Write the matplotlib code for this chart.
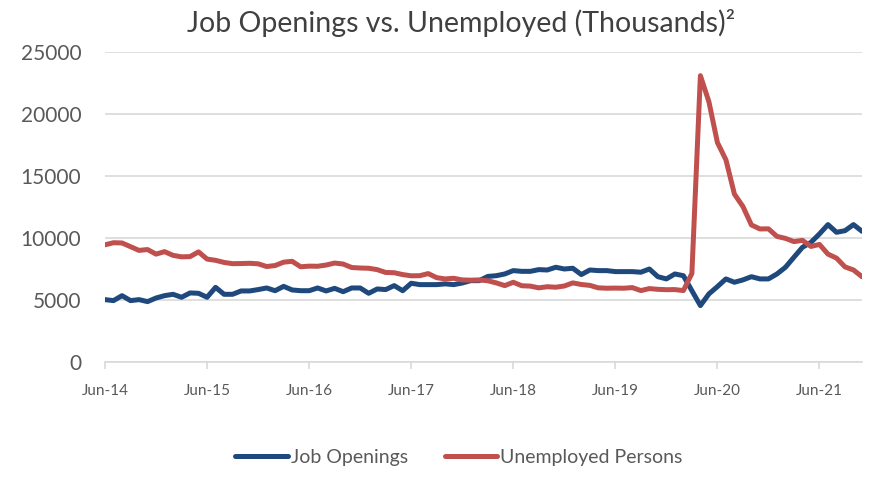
import numpy as np
import matplotlib
matplotlib.use("Agg")
import matplotlib.pyplot as plt

# monthly values in thousands, Jun-14 .. Nov-21
job_openings = [
    5030, 4950, 5350, 4950, 5030, 4870, 5160,
    5350, 5460, 5220, 5570, 5540, 5220, 6020, 5460, 5460, 5730, 5730, 5840,
    5970, 5750, 6100, 5810, 5750, 5750, 5970, 5730, 5940, 5670, 5970, 5970,
    5540, 5890, 5840, 6160, 5750, 6350, 6240, 6240, 6240, 6300, 6240, 6370,
    6560, 6560, 6900, 6960, 7100, 7370, 7310, 7310, 7450, 7420, 7640, 7500,
    7560, 7050, 7420, 7370, 7370, 7290, 7290, 7290, 7240, 7500, 6880, 6700,
    7100, 6960, 5750, 4550, 5490, 6080, 6700, 6430, 6620, 6880, 6700, 6700,
    7100, 7640, 8450, 9250, 9650, 10330, 11080, 10460, 10590, 11080, 10540,
]
unemployed = [
    9450, 9620, 9600, 9300, 9000, 9070, 8700,
    8900, 8600, 8480, 8500, 8880, 8300, 8200, 8030, 7930, 7940, 7960, 7920,
    7700, 7780, 8050, 8120, 7680, 7730, 7720, 7820, 7980, 7900, 7620, 7580,
    7560, 7450, 7220, 7200, 7050, 6950, 6960, 7130, 6800, 6700, 6750, 6620,
    6600, 6620, 6550, 6380, 6160, 6430, 6150, 6120, 5980, 6070, 6030, 6130,
    6380, 6250, 6180, 5980, 5950, 5960, 5950, 6000, 5760, 5920, 5860, 5830,
    5840, 5760, 7140, 23090, 20990, 17700, 16310, 13540, 12540, 11050, 10730, 10740,
    10130, 9970, 9710, 9810, 9320, 9480, 8700, 8380, 7670, 7420, 6880,
]
tick_labels = ["Jun-14", "Jun-15", "Jun-16", "Jun-17", "Jun-18", "Jun-19", "Jun-20", "Jun-21"]

plt.rcParams['font.family'] = ['Lato', 'DejaVu Sans']

x = np.arange(len(job_openings))
blue = '#1F497D'
red = '#C0504D'
grey = '#595959'

fig = plt.figure(figsize=(8.7, 4.88), dpi=100)
ax = fig.add_axes([105 / 870, 1 - 362 / 488, 757 / 870, 310 / 488])

ax.plot(x, job_openings, color=blue, linewidth=3.6, solid_capstyle='round',
        solid_joinstyle='round', label='Job Openings')
ax.plot(x, unemployed, color=red, linewidth=3.6, solid_capstyle='round',
        solid_joinstyle='round', label='Unemployed Persons')

ax.set_xlim(0, len(x) - 1)
ax.set_ylim(0, 25000)
ax.set_yticks(np.arange(0, 25001, 5000))
ax.set_xticks(np.arange(0, len(x), 12))
ax.set_xticklabels(tick_labels)

ax.grid(axis='y', color='#D9D9D9', linewidth=1.2)
ax.set_axisbelow(True)
for side in ['top', 'right', 'left']:
    ax.spines[side].set_visible(False)
ax.spines['bottom'].set_color('#D9D9D9')
ax.spines['bottom'].set_linewidth(1.2)

ax.tick_params(axis='y', length=0, pad=17, labelsize=15, labelcolor=grey)
ax.tick_params(axis='x', length=5, width=1.2, color='#D9D9D9', pad=11,
               labelsize=11, labelcolor=grey)

fig.text(461 / 870, 1 - 32 / 488, 'Job Openings vs. Unemployed (Thousands)²',
         ha='center', va='baseline', fontsize=20.5, color='#404040')

fig.legend(loc='center', bbox_to_anchor=(459 / 870, 1 - 457 / 488), ncol=2,
           frameon=False, fontsize=14, labelcolor=grey, handlelength=2.7,
           handletextpad=0.15, columnspacing=1.9)

fig.savefig('out.png', dpi=100)
